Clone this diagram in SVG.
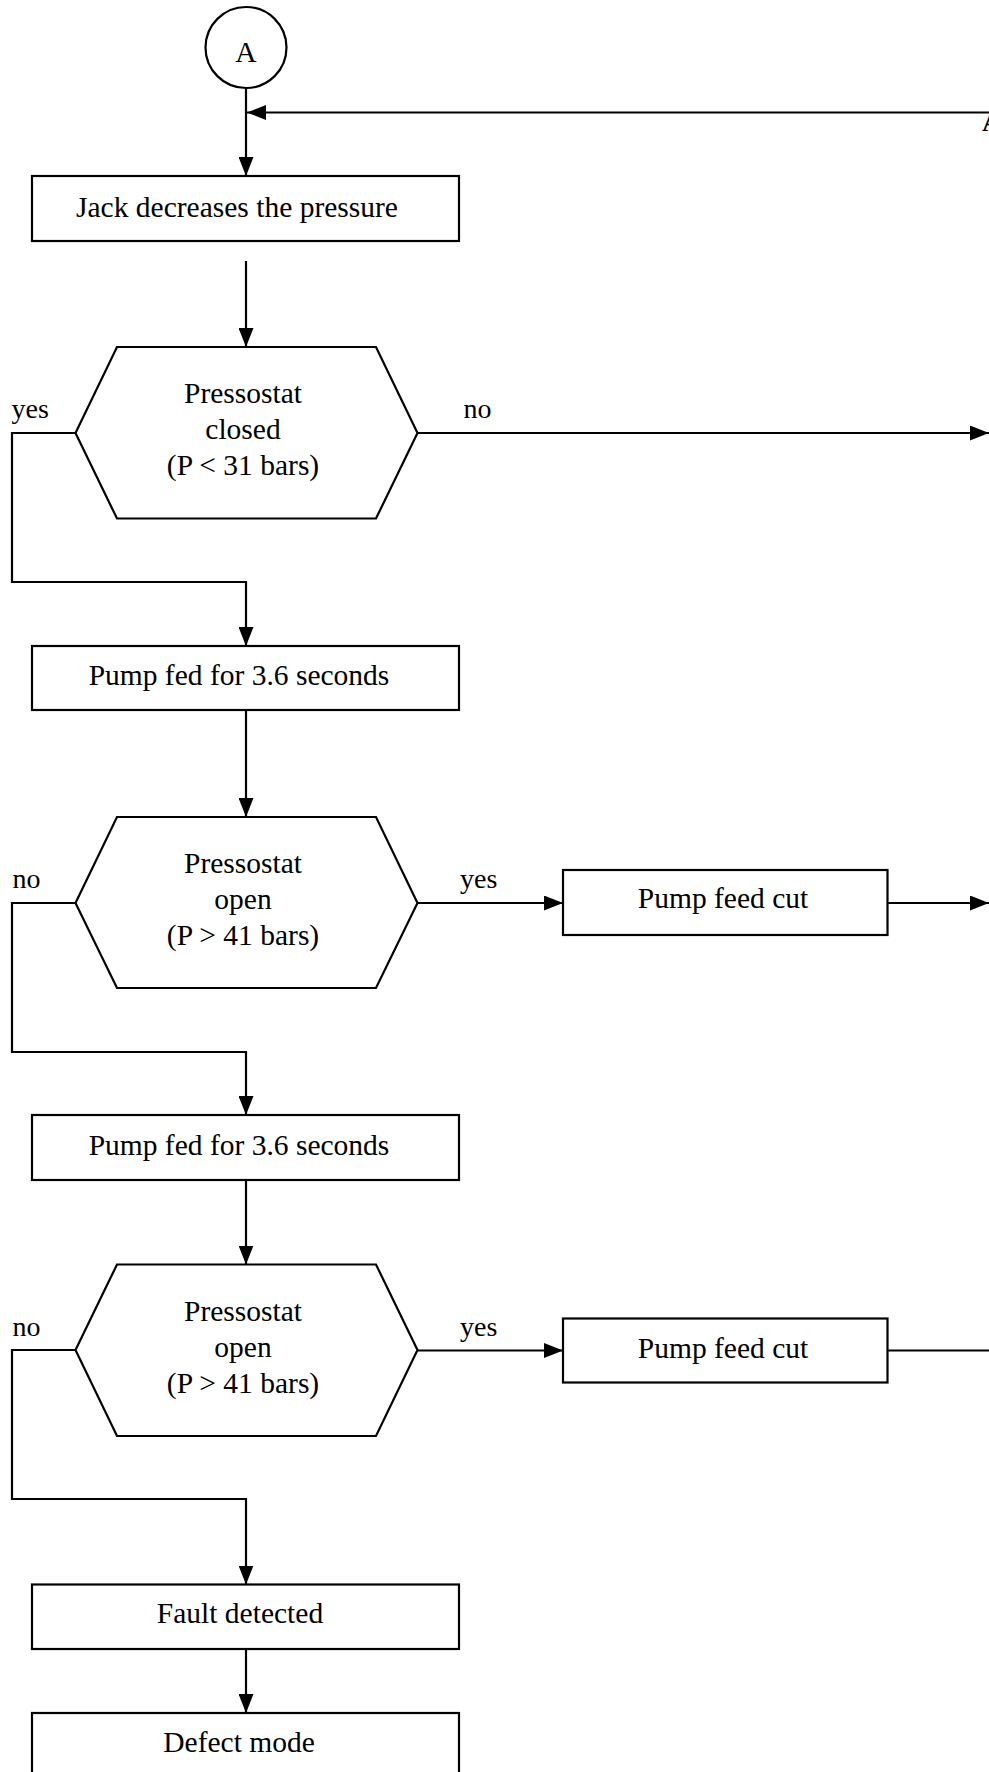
<svg xmlns="http://www.w3.org/2000/svg" width="989" height="1772" viewBox="0 0 989 1772">
<style>
.shape{fill:#fff;stroke:#000;stroke-width:2.2}
.conn{fill:none;stroke:#000;stroke-width:2.2}
.t{font-family:"Liberation Serif","Times New Roman",serif;font-size:29.5px;fill:#000}
.lbl{font-family:"Liberation Serif","Times New Roman",serif;font-size:28px;fill:#000}
.c{text-anchor:middle}
</style>
<defs>
<marker id="arr" markerUnits="userSpaceOnUse" markerWidth="19" markerHeight="15" refX="19" refY="7.5" orient="auto">
<path d="M0,0 L19,7.5 L0,15 z" fill="#000"/>
</marker>
</defs>
<rect width="989" height="1772" fill="#fff"/>
<g id="connectors">
<path class="conn" d="M246,88 V176" marker-end="url(#arr)"/>
<path class="conn" d="M989,112.5 H247" marker-end="url(#arr)"/>
<path class="conn" d="M246,261 V347" marker-end="url(#arr)"/>
<path class="conn" d="M417.5,433 H989" marker-end="url(#arr)"/>
<path class="conn" d="M75.5,433 H12 V582 H246 V646" marker-end="url(#arr)"/>
<path class="conn" d="M246,710 V817" marker-end="url(#arr)"/>
<path class="conn" d="M417.5,903 H563" marker-end="url(#arr)"/>
<path class="conn" d="M887.5,903 H989" marker-end="url(#arr)"/>
<path class="conn" d="M75.5,903 H12 V1052 H246 V1115" marker-end="url(#arr)"/>
<path class="conn" d="M246,1180 V1264.5" marker-end="url(#arr)"/>
<path class="conn" d="M417.5,1350.5 H563" marker-end="url(#arr)"/>
<path class="conn" d="M887.5,1350.5 H989"/>
<path class="conn" d="M75.5,1350 H12 V1499 H246 V1584.5" marker-end="url(#arr)"/>
<path class="conn" d="M246,1649 V1713" marker-end="url(#arr)"/>
<text class="lbl" x="982" y="131" font-size="32" font-weight="bold">A</text>
<text class="lbl" x="11.5" y="418">yes</text>
<text class="lbl" x="463.5" y="418">no</text>
<text class="lbl" x="12.5" y="888">no</text>
<text class="lbl" x="460" y="888">yes</text>
<text class="lbl" x="12.5" y="1336">no</text>
<text class="lbl" x="460" y="1336">yes</text>
</g>
<g id="nodeA">
<circle class="shape" cx="246" cy="47.5" r="40.5" stroke-width="2.6"/>
<text class="t c" x="246" y="62" font-size="32">A</text>
</g>
<g id="jack">
<rect class="shape" x="32" y="176" width="427" height="65"/>
<text class="t c" x="237" y="217">Jack decreases the pressure</text>
</g>
<g id="dec1">
<polygon class="shape" points="117,347 376,347 417.5,433 376,518.5 117,518.5 75.5,433"/>
<text class="t c" x="243" y="403">Pressostat</text>
<text class="t c" x="243" y="439">closed</text>
<text class="t c" x="243" y="475">(P &lt; 31 bars)</text>
</g>
<g id="pump1">
<rect class="shape" x="32" y="646" width="427" height="64"/>
<text class="t c" x="239" y="685">Pump fed for 3.6 seconds</text>
</g>
<g id="dec2">
<polygon class="shape" points="117,817 376,817 417.5,903 376,988 117,988 75.5,903"/>
<text class="t c" x="243" y="873">Pressostat</text>
<text class="t c" x="243" y="909">open</text>
<text class="t c" x="243" y="945">(P &gt; 41 bars)</text>
</g>
<g id="cut1">
<rect class="shape" x="563" y="870" width="324.5" height="65"/>
<text class="t c" x="723" y="908">Pump feed cut</text>
</g>
<g id="pump2">
<rect class="shape" x="32" y="1115" width="427" height="65"/>
<text class="t c" x="239" y="1155">Pump fed for 3.6 seconds</text>
</g>
<g id="dec3">
<polygon class="shape" points="117,1264.5 376,1264.5 417.5,1350 376,1436 117,1436 75.5,1350"/>
<text class="t c" x="243" y="1320.5">Pressostat</text>
<text class="t c" x="243" y="1356.5">open</text>
<text class="t c" x="243" y="1393">(P &gt; 41 bars)</text>
</g>
<g id="cut2">
<rect class="shape" x="563" y="1318.5" width="324.5" height="64"/>
<text class="t c" x="723" y="1358">Pump feed cut</text>
</g>
<g id="fault">
<rect class="shape" x="32" y="1584.5" width="427" height="64.5"/>
<text class="t c" x="240" y="1623">Fault detected</text>
</g>
<g id="defect">
<rect class="shape" x="32" y="1713" width="427" height="65"/>
<text class="t c" x="239" y="1752">Defect mode</text>
</g>
</svg>
